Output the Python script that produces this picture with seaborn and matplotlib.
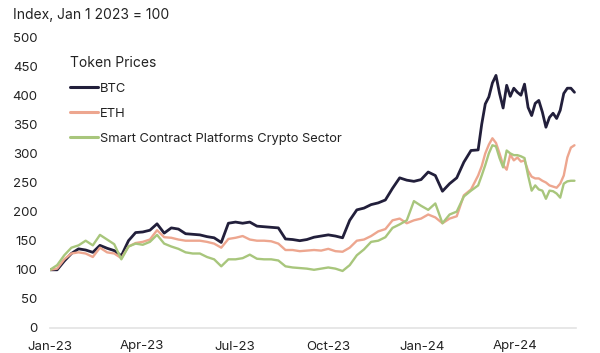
import numpy as np
import pandas as pd
import matplotlib
matplotlib.use("Agg")
import matplotlib.pyplot as plt
from matplotlib.lines import Line2D
import seaborn as sns

# ---- data ----
# weekly points to mid-Feb 2024, then twice-weekly points to end of May 2024
dates = list(pd.date_range("2023-01-01", periods=60, freq="7D")) + \
        list(pd.date_range("2024-02-25", periods=28, freq="84h"))

btc = [100, 100, 115, 128, 136, 134, 130, 142, 137, 133,
       124, 150, 164, 165, 168, 179, 163, 172, 170, 162,
       161, 160, 157, 155, 147, 180, 182, 180, 182, 175,
       174, 173, 172, 153, 152, 150, 152, 156, 158, 160,
       158, 155, 185, 203, 206, 212, 215, 220, 240, 258,
       254, 252, 255, 268, 262, 235, 248, 258, 285, 305,
       306, 350, 385, 397, 421, 434, 403, 378, 417, 398,
       412, 405, 400, 419, 379, 365, 386, 391, 371, 345,
       362, 369, 360, 374, 403, 412, 412, 405]

eth = [100, 102, 118, 128, 130, 128, 122, 138, 130, 128,
       120, 140, 146, 148, 152, 168, 156, 155, 152, 150,
       150, 150, 148, 145, 138, 153, 155, 158, 152, 150,
       150, 149, 145, 134, 134, 132, 133, 134, 133, 136,
       132, 131, 138, 150, 152, 158, 166, 170, 185, 188,
       180, 185, 188, 195, 190, 180, 188, 192, 228, 238,
       262, 278, 300, 315, 326, 318, 300, 280, 272, 298,
       288, 293, 286, 288, 270, 260, 257, 257, 253, 250,
       245, 243, 241, 248, 262, 293, 310, 314]

scp = [100, 108, 125, 138, 142, 150, 142, 160, 152, 144,
       118, 140, 145, 143, 148, 160, 145, 140, 136, 130,
       128, 128, 122, 118, 106, 118, 118, 120, 126, 119,
       118, 118, 116, 106, 104, 103, 102, 100, 102, 104,
       102, 98, 108, 125, 135, 148, 150, 156, 172, 178,
       185, 218, 210, 203, 214, 180, 195, 200, 226, 236,
       245, 262, 280, 300, 314, 312, 292, 276, 305, 300,
       297, 297, 295, 292, 262, 236, 245, 238, 236, 222,
       236, 235, 231, 224, 248, 252, 253, 253]

series_names = ["BTC", "ETH", "Smart Contract Platforms Crypto Sector"]
colors = ["#221f3b", "#eda68f", "#a8c67c"]
yticks = [0, 50, 100, 150, 200, 250, 300, 350, 400, 450, 500]
xtick_dates = ["2023-01-01", "2023-04-01", "2023-07-01", "2023-10-01", "2024-01-01", "2024-04-01"]
xtick_labels = ["Jan-23", "Apr-23", "Jul-23", "Oct-23", "Jan-24", "Apr-24"]

df = pd.concat([
    pd.DataFrame({"date": dates, "value": vals, "series": name})
    for name, vals in zip(series_names, [btc, eth, scp])
])

sns.set_theme(style="white")
plt.rcParams["font.family"] = ["Inter", "DejaVu Sans"]

fig = plt.figure(figsize=(6, 3.53), dpi=100)
ax = fig.add_axes([50/600, 1-328/353, (576-50)/600, (328-37)/353])

sns.lineplot(data=df, x="date", y="value", hue="series", hue_order=series_names,
             palette=colors, ax=ax, legend=False)
widths = [2.0, 1.7, 1.7]
for line, w in zip(ax.get_lines(), widths):
    line.set_linewidth(w)
    line.set_solid_joinstyle("round")

ax.set_ylim(0, 500)
ax.set_xlim(pd.Timestamp("2023-01-01"), pd.Timestamp("2024-05-31"))
ax.set_yticks(yticks)
ax.set_yticklabels([str(t) for t in yticks], fontsize=9.5, color="#222222")
ax.set_xticks([pd.Timestamp(d) for d in xtick_dates])
ax.set_xticklabels(xtick_labels, fontsize=9.5, color="#222222")
ax.tick_params(axis="both", length=0)
ax.tick_params(axis="y", pad=9)
ax.tick_params(axis="x", pad=9)
ax.set_xlabel("")
ax.set_ylabel("")
for s in ["top", "right", "left"]:
    ax.spines[s].set_visible(False)
ax.spines["bottom"].set_color("#e3e3e3")
ax.spines["bottom"].set_linewidth(1.2)
ax.grid(False)

fig.text(13/600, 1-15/353, "Index, Jan 1 2023 = 100", fontsize=10, color="#222222",
         ha="left", va="center")

handles = [Line2D([0], [0], color=c, lw=2.2) for c in colors]
leg = ax.legend(handles, series_names, title="Token Prices", frameon=False,
                loc="upper left", bbox_to_anchor=(70/600, 1-56/353),
                bbox_transform=fig.transFigure, fontsize=9.3, title_fontsize=10,
                handlelength=2.2, handletextpad=0.15, labelspacing=1.0,
                borderaxespad=0, borderpad=0)
leg._legend_box.align = "left"
for t in leg.get_texts():
    t.set_color("#222222")
leg.get_title().set_color("#222222")

fig.savefig("out.png", dpi=100)
